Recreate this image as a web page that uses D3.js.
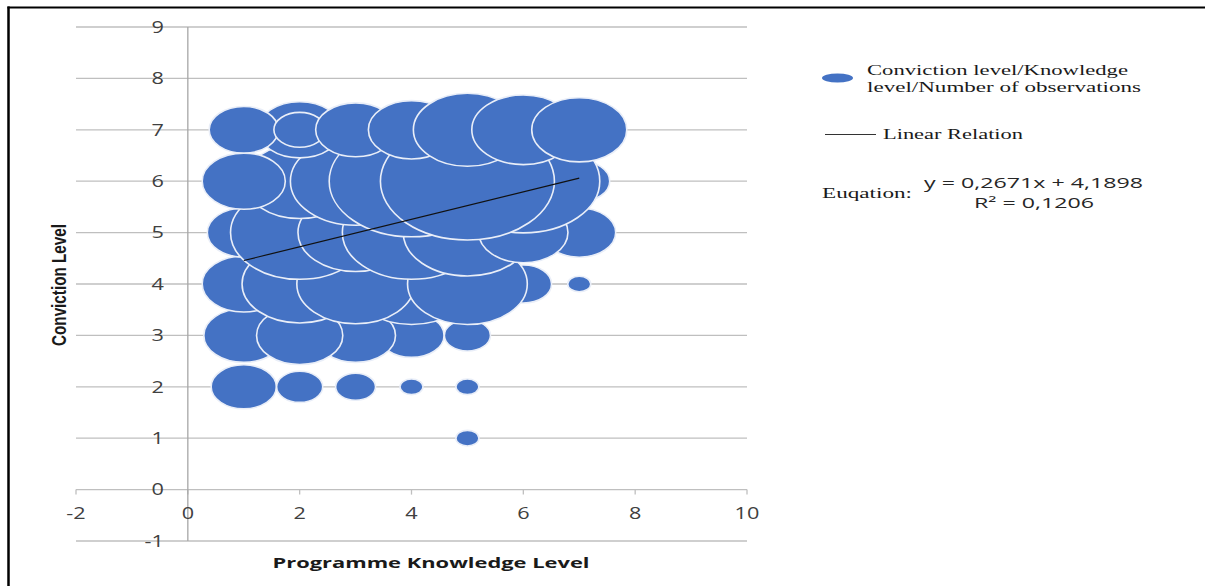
<!DOCTYPE html>
<html><head><meta charset="utf-8">
<script src="https://cdn.jsdelivr.net/npm/d3@7"></script>
<style>html,body{margin:0;padding:0;background:#fff;} svg{display:block}</style>
</head><body>
<svg id="chart" width="1205" height="586"></svg>
<script>
// ---- data (draw order) ----
const knowledge    = [5, 1,2,3,4,5, 1,4,3,2,5, 7,6,1,2,4,3,5, 1,2,3,4,5,7,6, 2,1,3,4,7,6,5, 2,1,2,3,4,5,6,7];
const conviction   = [1, 2,2,2,2,2, 3,3,3,3,3, 4,4,4,4,4,4,4, 5,5,5,5,5,5,5, 6,6,6,6,6,6,6, 7,7,7,7,7,7,7,7];
const observations = [1, 8,4,3,1,1, 12,8,12,14,4, 1,6,13,25,27,26,27, 10,36,25,36,31,10,15, 23,13,32,51,7,44,57, 13,9,5,12,14,22,20,17];

const xTicks = [-2, 0, 2, 4, 6, 8, 10];
const yTicks = [-1, 0, 1, 2, 3, 4, 5, 6, 7, 8, 9];
const trendSlope = 0.2671;
const trendIntercept = 4.1898;
const trendX = [1, 7];
const xTitle = "Programme Knowledge Level";
const yTitle = "Conviction Level";
const legendBubbleLines = ["Conviction level/Knowledge", "level/Number of observations"];
const legendLineLabel = "Linear Relation";
const equationLabel = "Euqation:";
const equationLines = ["y = 0,2671x + 4,1898", "R\u00b2 = 0,1206"];

// ---- layout ----
const svg = d3.select("#chart");
const x = d3.scaleLinear().domain([-2, 10]).range([76, 747]);
const y = d3.scaleLinear().domain([-1, 9]).range([541, 27]);
const r = d3.scaleSqrt().domain([0, 57]).range([0, 87]);
const ASPECT = 1.48;   // picture is stretched horizontally
const SX = 1.4;

// frame
svg.append("line").attr("x1", 8.5).attr("x2", 8.5).attr("y1", 6.5).attr("y2", 586)
  .attr("stroke", "#000").attr("stroke-width", 2.5);
svg.append("line").attr("x1", 7.5).attr("x2", 1205).attr("y1", 7.5).attr("y2", 7.5)
  .attr("stroke", "#000").attr("stroke-width", 2);

// gridlines
svg.append("g").selectAll("line").data(yTicks).join("line")
  .attr("x1", x(-2)).attr("x2", x(10))
  .attr("y1", d => y(d)).attr("y2", d => y(d))
  .attr("stroke", "#bfbfbf").attr("stroke-width", 1.3);

// x-axis tick marks at y = 0
svg.append("g").selectAll("line").data(xTicks).join("line")
  .attr("x1", d => x(d)).attr("x2", d => x(d))
  .attr("y1", y(0)).attr("y2", y(0) + 5)
  .attr("stroke", "#bfbfbf").attr("stroke-width", 1.3);

// vertical axis at x = 0
svg.append("line").attr("x1", x(0)).attr("x2", x(0)).attr("y1", y(9)).attr("y2", y(-1))
  .attr("stroke", "#a6a6a6").attr("stroke-width", 1.3);

// y tick labels
svg.append("g").selectAll("text").data(yTicks).join("text")
  .attr("transform", d => `translate(164,${y(d)}) scale(${SX},1)`)
  .attr("text-anchor", "end").attr("dominant-baseline", "central")
  .attr("font-family", "'Open Sans', sans-serif").attr("font-size", 15.5)
  .attr("fill", "#404040").text(d => d);

// x tick labels
svg.append("g").selectAll("text").data(xTicks).join("text")
  .attr("transform", d => `translate(${x(d)},${y(0) + 24}) scale(${SX},1)`)
  .attr("text-anchor", "middle").attr("dominant-baseline", "central")
  .attr("font-family", "'Open Sans', sans-serif").attr("font-size", 15.5)
  .attr("fill", "#404040").text(d => d);

// bubbles
const pts = knowledge.map((k, i) => ({ k, c: conviction[i], n: observations[i] }));
svg.append("g").selectAll("ellipse").data(pts).join("ellipse")
  .attr("cx", d => x(d.k)).attr("cy", d => y(d.c))
  .attr("rx", d => r(d.n)).attr("ry", d => r(d.n) / ASPECT)
  .attr("fill", "#4472c4").attr("stroke", "#e9eef8").attr("stroke-width", 1.6);

// trend line
svg.append("line")
  .attr("x1", x(trendX[0])).attr("y1", y(trendSlope * trendX[0] + trendIntercept))
  .attr("x2", x(trendX[1])).attr("y2", y(trendSlope * trendX[1] + trendIntercept))
  .attr("stroke", "#111").attr("stroke-width", 1.2);

// axis titles
svg.append("text").attr("x", 431).attr("y", 568).attr("text-anchor", "middle")
  .attr("font-family", "'Open Sans', sans-serif").attr("font-weight", "bold").attr("font-size", 15)
  .attr("textLength", 317).attr("lengthAdjust", "spacingAndGlyphs")
  .attr("fill", "#1a1a1a").text(xTitle);

svg.append("text").attr("transform", `translate(66,285) rotate(-90) scale(1,1.45)`)
  .attr("text-anchor", "middle")
  .attr("font-family", "'Liberation Sans', Arial, sans-serif").attr("font-weight", "bold").attr("font-size", 14)
  .attr("textLength", 122).attr("lengthAdjust", "spacingAndGlyphs")
  .attr("fill", "#1a1a1a").text(yTitle);

// legend
const serif = "'Liberation Serif', 'Times New Roman', serif";
svg.append("ellipse").attr("cx", 837.5).attr("cy", 78).attr("rx", 15.5).attr("ry", 4.5)
  .attr("fill", "#4472c4");
svg.append("text").attr("x", 867).attr("y", 74.5).attr("font-family", serif).attr("font-size", 15.5)
  .attr("textLength", 261).attr("lengthAdjust", "spacingAndGlyphs").attr("fill", "#1a1a1a")
  .text(legendBubbleLines[0]);
svg.append("text").attr("x", 867).attr("y", 92).attr("font-family", serif).attr("font-size", 15.5)
  .attr("textLength", 274).attr("lengthAdjust", "spacingAndGlyphs").attr("fill", "#1a1a1a")
  .text(legendBubbleLines[1]);

svg.append("line").attr("x1", 825).attr("x2", 876).attr("y1", 134.5).attr("y2", 134.5)
  .attr("stroke", "#333").attr("stroke-width", 1.2);
svg.append("text").attr("x", 883).attr("y", 139).attr("font-family", serif).attr("font-size", 15.5)
  .attr("textLength", 140).attr("lengthAdjust", "spacingAndGlyphs").attr("fill", "#1a1a1a")
  .text(legendLineLabel);

svg.append("text").attr("x", 822).attr("y", 198).attr("font-family", serif).attr("font-size", 15.5)
  .attr("textLength", 90).attr("lengthAdjust", "spacingAndGlyphs").attr("fill", "#1a1a1a")
  .text(equationLabel);
svg.append("text").attr("x", 924).attr("y", 187.5).attr("font-family", "'Open Sans', sans-serif").attr("font-size", 14)
  .attr("textLength", 219).attr("lengthAdjust", "spacingAndGlyphs").attr("fill", "#262626")
  .text(equationLines[0]);
svg.append("text").attr("x", 974).attr("y", 208.3).attr("font-family", "'Open Sans', sans-serif").attr("font-size", 14)
  .attr("textLength", 120).attr("lengthAdjust", "spacingAndGlyphs").attr("fill", "#262626")
  .text(equationLines[1]);
</script>
</body></html>
